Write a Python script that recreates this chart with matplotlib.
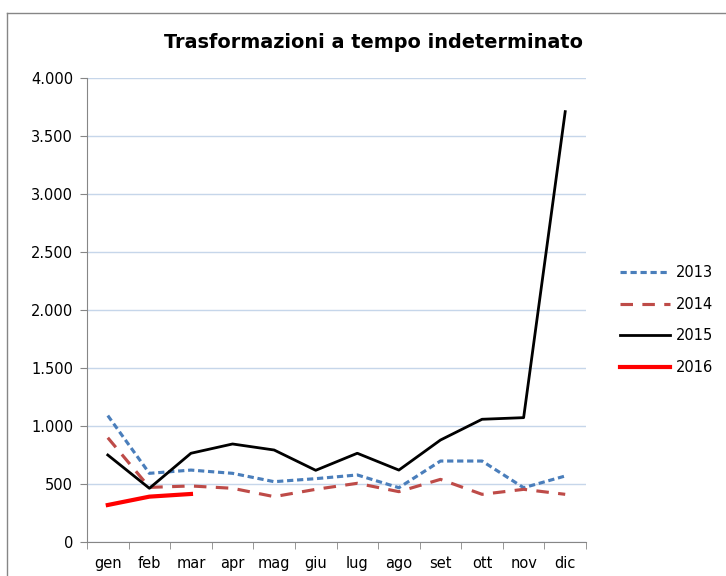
import matplotlib
matplotlib.use("Agg")
import matplotlib.pyplot as plt
from matplotlib.ticker import FuncFormatter
from matplotlib.lines import Line2D

months = ["gen", "feb", "mar", "apr", "mag", "giu", "lug", "ago", "set", "ott", "nov", "dic"]
y2013 = [1090, 592, 620, 592, 520, 546, 578, 468, 698, 698, 468, 569]
y2014 = [899, 471, 483, 463, 391, 454, 506, 434, 540, 411, 454, 411]
y2015 = [750, 463, 765, 845, 793, 618, 765, 620, 879, 1058, 1072, 3710]
y2016 = [319, 391, 414]

fig = plt.figure(figsize=(7.26, 5.76), dpi=100)
ax = fig.add_axes([87 / 726, 34 / 576, 499 / 726, 464 / 576])

# outer chart border (excel style)
fig.add_artist(Line2D([7 / 726, 7 / 726], [0, 1 - 13 / 576], color="#868686", lw=1))
fig.add_artist(Line2D([7 / 726, 1], [1 - 13 / 576, 1 - 13 / 576], color="#868686", lw=1))

x = list(range(12))
ax.plot(x, y2013, color="#4a7ebb", lw=2.25, dashes=(2, 1.2), label="2013")
ax.plot(x, y2014, color="#be4b48", lw=2.25, dashes=(4, 3), label="2014")
ax.plot(x, y2015, color="black", lw=2, label="2015")
ax.plot(x[:len(y2016)], y2016, color="#ff0000", lw=3, label="2016")

ax.set_xlim(-0.5, 11.5)
ax.set_ylim(0, 4000)
ax.set_yticks(range(0, 4001, 500))
ax.yaxis.set_major_formatter(FuncFormatter(lambda v, p: f"{int(v):,}".replace(",", ".")))
ax.grid(axis="y", color="#c6d6ea", lw=1)
ax.set_axisbelow(True)

ax.set_xticks(x)
ax.set_xticklabels(months)
ax.set_xticks([i - 0.5 for i in range(13)], minor=True)
ax.tick_params(axis="x", which="major", length=0, pad=10)
ax.tick_params(axis="x", which="minor", length=5, color="#868686", direction="out")
ax.tick_params(axis="y", length=5, color="#868686", direction="out", pad=5)
ax.tick_params(labelsize=10.5)

for s in ["top", "right"]:
    ax.spines[s].set_visible(False)
for s in ["left", "bottom"]:
    ax.spines[s].set_color("#868686")

fig.text(373 / 726, 1 - 42 / 576, "Trasformazioni a tempo indeterminato",
         ha="center", va="center", fontsize=13.9, fontweight="bold")

ax.legend(loc="center left", bbox_to_anchor=(607 / 726, 1 - 320 / 576), bbox_transform=fig.transFigure,
          frameon=False, fontsize=10.5, handlelength=3.4, handletextpad=0.4, labelspacing=1.15)

fig.savefig("out.png", dpi=100)
